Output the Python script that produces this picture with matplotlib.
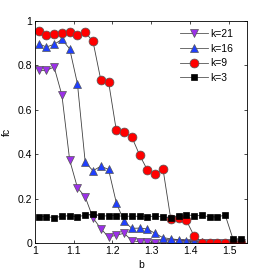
import matplotlib
matplotlib.use("Agg")
import matplotlib.pyplot as plt
import numpy as np

plt.rcParams['font.family'] = ['Liberation Sans', 'DejaVu Sans']

b = [1.01, 1.03, 1.05, 1.07, 1.09, 1.11, 1.13, 1.15, 1.17, 1.19, 1.21, 1.23, 1.25,
     1.27, 1.29, 1.31, 1.33, 1.35, 1.37, 1.39, 1.41, 1.43, 1.45, 1.47, 1.49, 1.51, 1.53]

k21 = [0.777, 0.777, 0.792, 0.666, 0.374, 0.250, 0.208, 0.114, 0.066, 0.028, 0.036, 0.045, 0.012,
       0.006, 0.004, 0.003, 0.002, 0.002, 0.001, 0.001, 0.001, 0.001, 0.0, 0.0, 0.0, 0.0, 0.0]
k16 = [0.897, 0.882, 0.894, 0.916, 0.874, 0.717, 0.364, 0.326, 0.346, 0.332, 0.182, 0.098, 0.067,
       0.068, 0.064, 0.044, 0.025, 0.020, 0.016, 0.012, 0.008, 0.004, 0.002, 0.001, 0.001, 0.0, 0.0]
k9 = [0.953, 0.937, 0.940, 0.943, 0.949, 0.934, 0.948, 0.907, 0.735, 0.726, 0.507, 0.502, 0.477,
      0.396, 0.329, 0.313, 0.334, 0.110, 0.112, 0.103, 0.033, 0.003, 0.003, 0.003, 0.003, 0.002, 0.002]
k3 = [0.119, 0.120, 0.115, 0.121, 0.124, 0.119, 0.126, 0.131, 0.121, 0.124, 0.124, 0.121, 0.122,
      0.121, 0.119, 0.123, 0.118, 0.114, 0.122, 0.129, 0.123, 0.125, 0.119, 0.118, 0.127, 0.020, 0.020]

xticks = [1, 1.1, 1.2, 1.3, 1.4, 1.5]
xticklabels = ['1', '1.1', '1.2', '1.3', '1.4', '1.5']
yticks = [0, 0.2, 0.4, 0.6, 0.8, 1]
yticklabels = ['0', '0.2', '0.4', '0.6', '0.8', '1']

fig = plt.figure(figsize=(2.73, 2.73), dpi=100)
ax = fig.add_axes([0.127, 0.109, 0.779, 0.815])

lc = '#404040'
ax.plot(b, k21, '-', color=lc, lw=0.6, marker='v', ms=6.3, mfc='#9B30E8', mec='#555555', mew=0.5, label='k=21')
ax.plot(b, k16, '-', color=lc, lw=0.6, marker='^', ms=6.3, mfc='#1F3FFF', mec='#555555', mew=0.5, label='k=16')
ax.plot(b, k9, '-', color=lc, lw=0.6, marker='o', ms=6.4, mfc='#FF0000', mec='#555555', mew=0.5, label='k=9')
ax.plot(b, k3, '-', color=lc, lw=0.6, marker='s', ms=4.8, mfc='#000000', mec='#000000', mew=0.5, label='k=3')

ax.set_xlim(1, 1.547)
ax.set_ylim(0, 1)
ax.set_xticks(xticks)
ax.set_xticklabels(xticklabels)
ax.set_yticks(yticks)
ax.set_yticklabels(yticklabels)
ax.tick_params(direction='in', length=2.5, width=0.5, top=True, right=True, labelsize=7.5, pad=2)
for s in ax.spines.values():
    s.set_linewidth(0.6)
ax.set_xlabel('b', fontsize=7.5, labelpad=3)
ax.set_ylabel('fc', fontsize=7.5, labelpad=4)

leg = ax.legend(loc='upper right', frameon=False, fontsize=7.5, handlelength=2.7, handletextpad=0.25,
                labelspacing=0.45, borderaxespad=0.4, bbox_to_anchor=(0.975, 1.0))
for h in leg.get_lines():
    h.set_color('#555555')

fig.savefig('out.png', dpi=100)
